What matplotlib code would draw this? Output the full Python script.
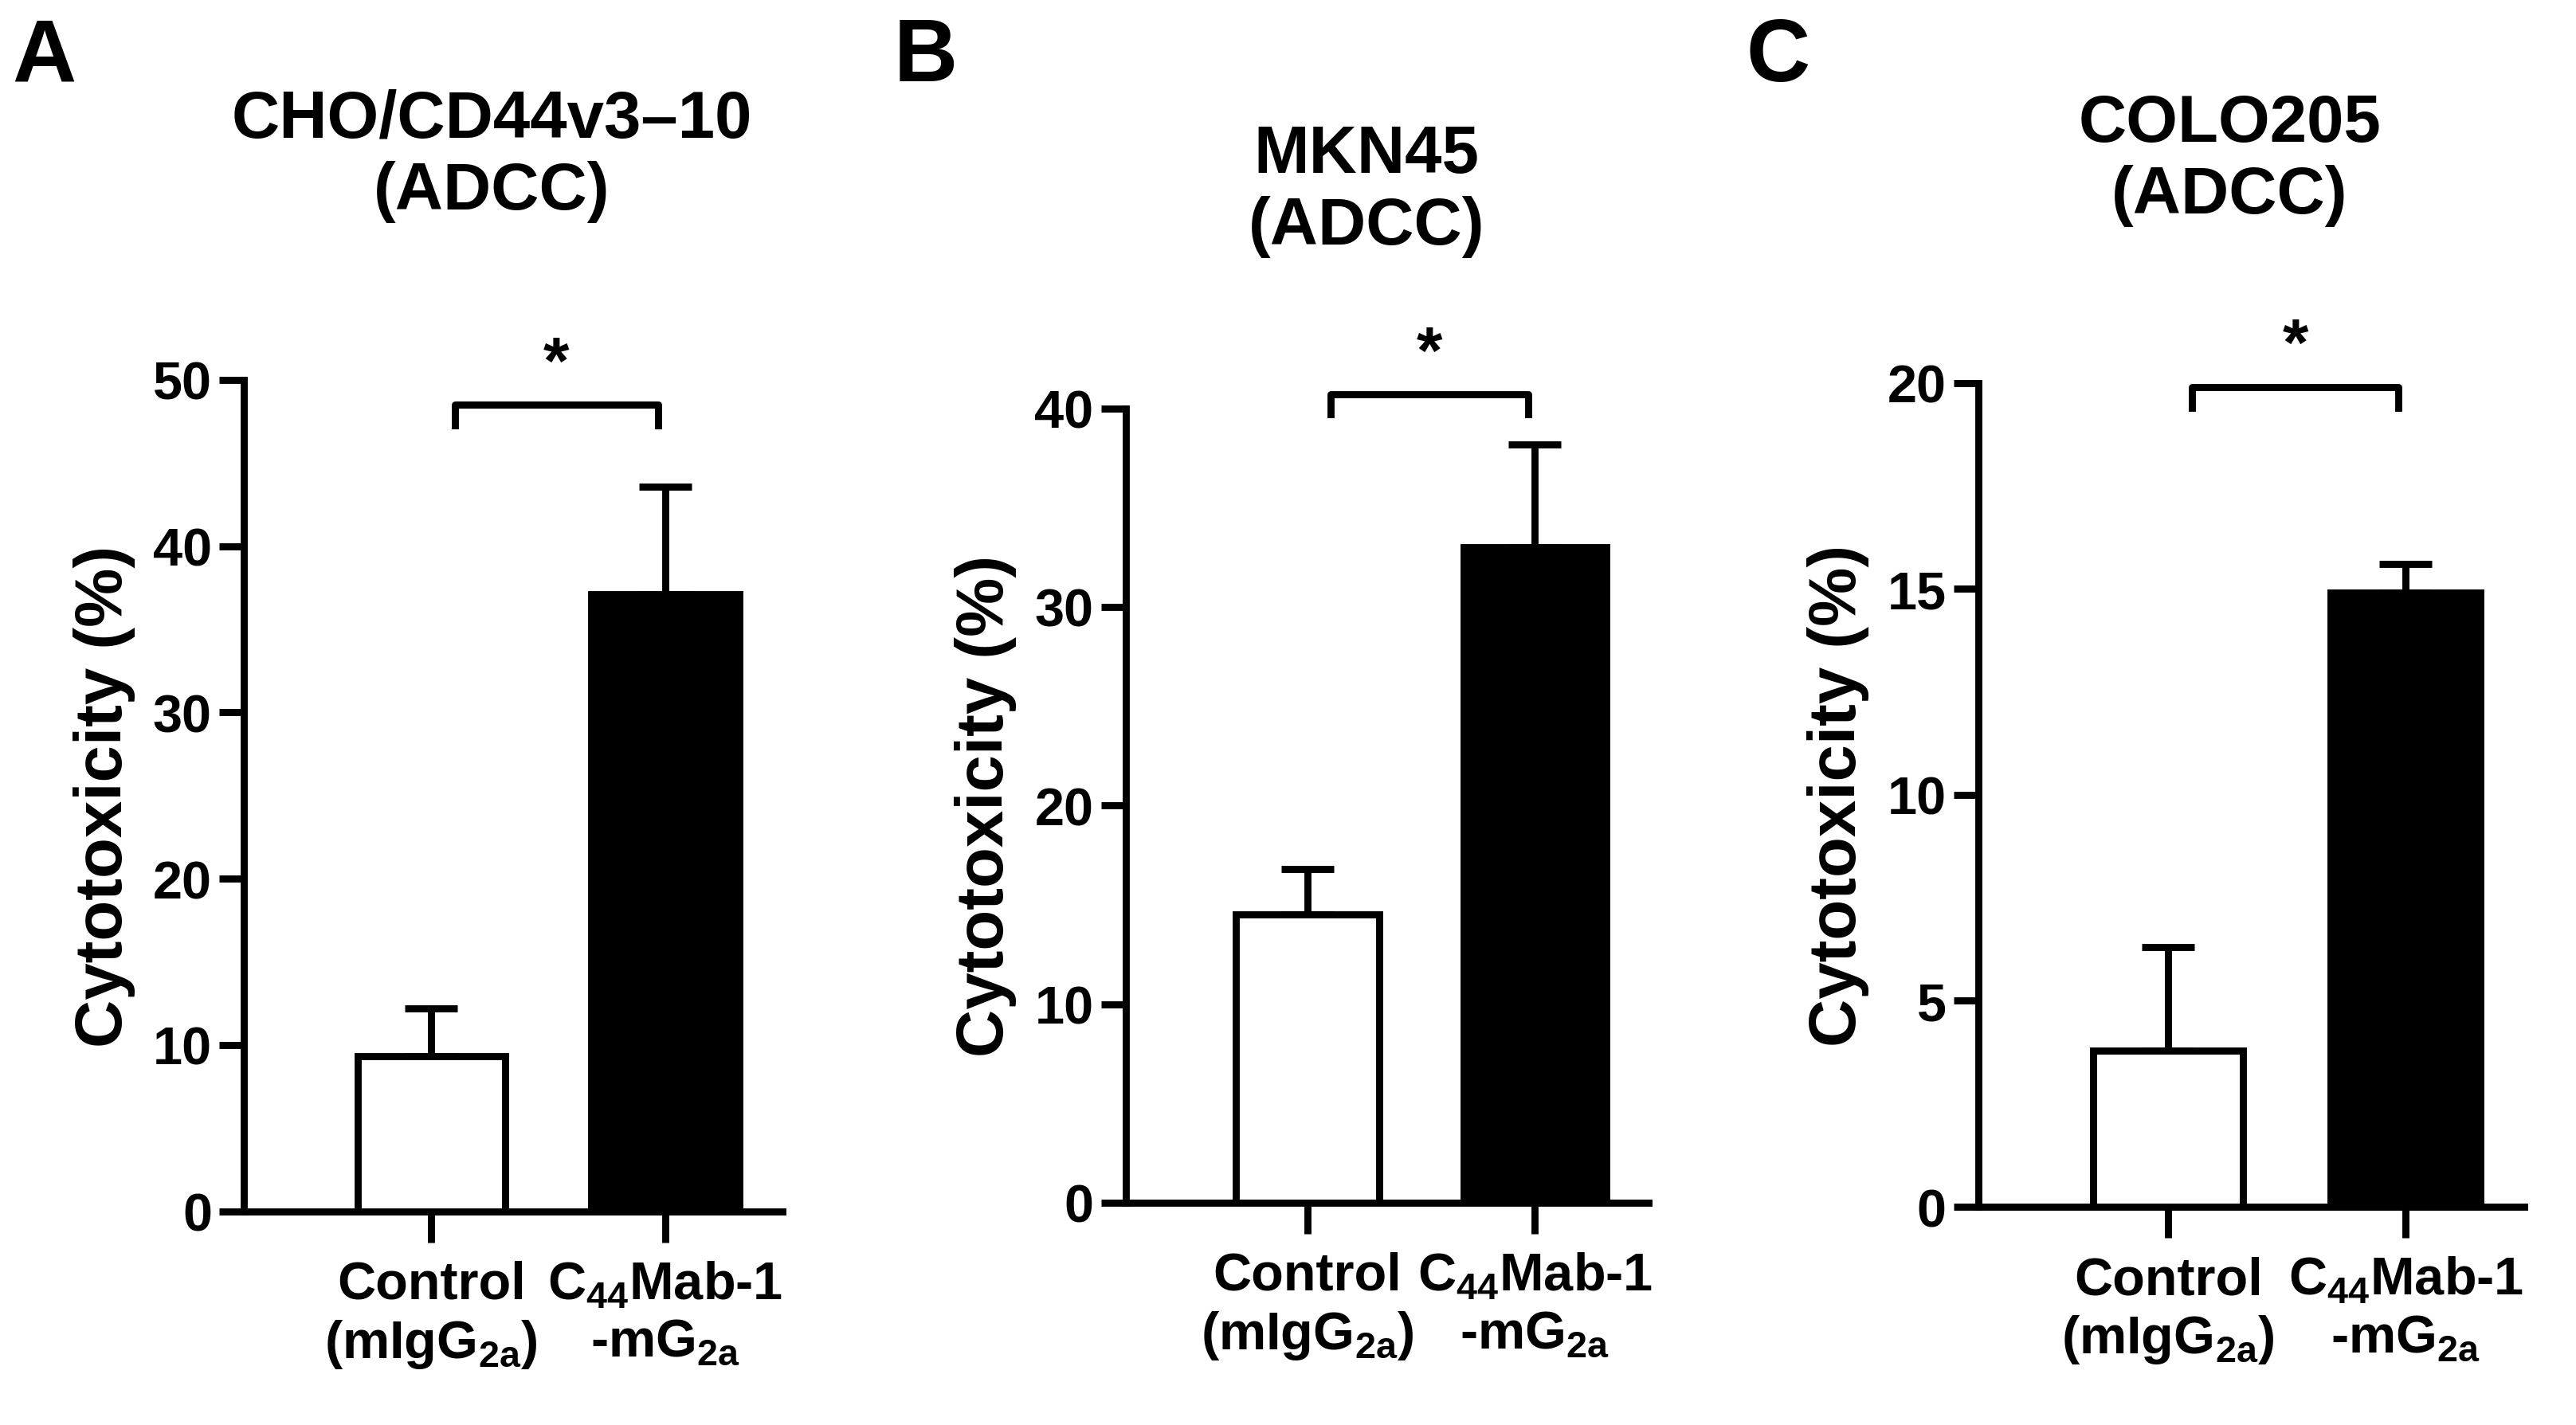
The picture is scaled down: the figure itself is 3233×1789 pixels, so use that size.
import matplotlib
matplotlib.use("Agg")
import matplotlib.pyplot as plt

plt.rcParams['font.family'] = 'Liberation Sans'
plt.rcParams['font.weight'] = 'bold'
plt.rcParams['mathtext.fontset'] = 'custom'
plt.rcParams['mathtext.rm'] = 'Liberation Sans:bold'
plt.rcParams['mathtext.bf'] = 'Liberation Sans:bold'

titles = ["CHO/CD44v3\u201310\n(ADCC)", "MKN45\n(ADCC)", "COLO205\n(ADCC)"]
letters = ["A", "B", "C"]
categories = ["Control\n(mIgG$_{\\mathbf{2a}}$)", "C$_{\\mathbf{44}}$Mab-1\n-mG$_{\\mathbf{2a}}$"]
means_A = [9.3, 37.1]; err_A = [2.9, 6.5]
means_B = [14.5, 33.0]; err_B = [2.3, 5.2]
means_C = [3.8, 14.9]; err_C = [2.5, 0.7]
ymax = [50, 40, 20]
ysteps = [10, 10, 5]
bracket_y = [48.5, 40.7, 19.9]

means = [means_A, means_B, means_C]
errs = [err_A, err_B, err_C]
boxes = [(0.0947, 0.150, 0.209, 0.583), (0.437, 0.156, 0.203, 0.557), (0.768, 0.153, 0.212, 0.578)]
lw = 3.2

fig = plt.figure(figsize=(16.165, 8.95), dpi=200)
for i in range(3):
    ax = fig.add_axes(boxes[i])
    x = [0, 1]
    ax.bar(x, means[i], width=0.63, color=['white', 'black'], edgecolor='black', linewidth=lw, zorder=3)
    ax.errorbar(x, means[i], yerr=[[0, 0], errs[i]], fmt='none', ecolor='black', elinewidth=lw, capsize=12, capthick=lw, zorder=2)
    ax.set_xlim(-0.8, 1.5)
    ax.set_ylim(0, ymax[i])
    ax.set_yticks(range(0, ymax[i] + 1, ysteps[i]))
    ax.set_xticks(x)
    ax.set_xticklabels(categories, fontsize=24, fontweight='bold')
    ax.tick_params(axis='both', width=lw, length=11, labelsize=24, direction='out')
    ax.tick_params(axis='x', bottom=True, length=14, pad=8)
    for lab in ax.get_yticklabels():
        lab.set_fontweight('bold')
    ax.spines['top'].set_visible(False)
    ax.spines['right'].set_visible(False)
    ax.spines['left'].set_linewidth(lw)
    ax.spines['bottom'].set_linewidth(lw)
    ax.set_ylabel("Cytotoxicity (%)", fontsize=30, fontweight='bold', labelpad=8)
    by = bracket_y[i]; h = ymax[i] * 0.025
    ax.plot([0.1, 0.1, 0.97, 0.97], [by - h, by, by, by - h], color='black', lw=lw, clip_on=False)
    ax.text(0.535, by + ymax[i] * 0.01, "*", ha='center', va='bottom', fontsize=30, fontweight='bold')
    ax.text(0.46, 1.19, titles[i], transform=ax.transAxes, ha='center', va='bottom', fontsize=30, fontweight='bold', linespacing=1.2)
    fig.text(boxes[i][0] - 0.09, 0.93, letters[i], fontsize=40, fontweight='bold', ha='left', va='bottom')

fig.savefig("out.png", dpi=200)
